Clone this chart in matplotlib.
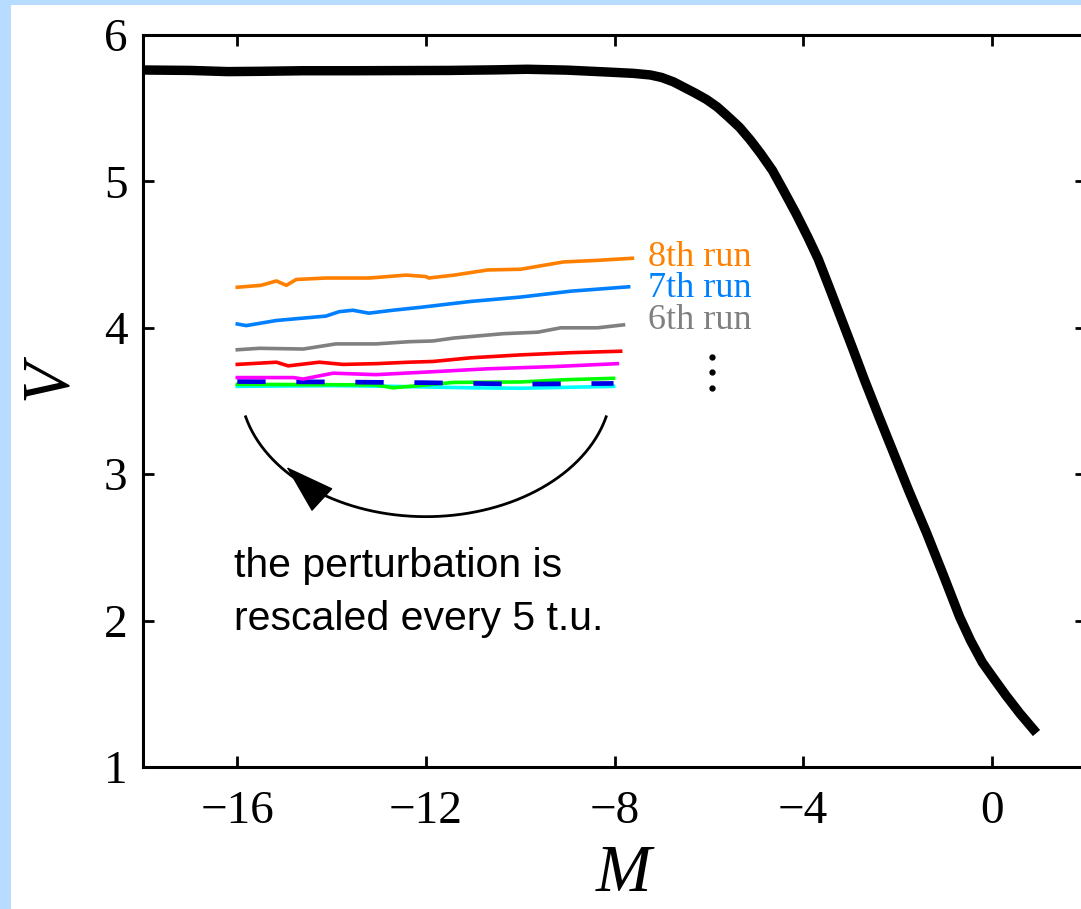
import numpy as np
import matplotlib
matplotlib.use("Agg")
import matplotlib.pyplot as plt
from matplotlib.patches import Rectangle

# main curve V(M)
M_main = [-18.0, -17.0, -16.2, -15.5, -14.6, -13.5, -12.5, -11.5, -10.5, -9.85, -9.0, -8.15,
          -7.6, -7.24, -7.0, -6.75, -6.54, -6.3, -6.05, -5.82, -5.6, -5.35, -5.12, -4.9,
          -4.65, -4.42, -4.15, -3.9, -3.68, -3.45, -3.2, -2.95, -2.7, -2.4, -2.1, -1.75,
          -1.38, -1.0, -0.68, -0.45, -0.2, 0.02, 0.3, 0.6, 0.95]
V_main = [5.761, 5.758, 5.750, 5.752, 5.756, 5.756, 5.757, 5.758, 5.762, 5.766, 5.760, 5.747,
          5.738, 5.727, 5.71, 5.68, 5.645, 5.605, 5.56, 5.508, 5.445, 5.37, 5.283, 5.19,
          5.075, 4.941, 4.78, 4.62, 4.47, 4.28, 4.07, 3.86, 3.645, 3.40, 3.160, 2.880,
          2.598, 2.29, 2.025, 1.865, 1.715, 1.615, 1.49, 1.365, 1.232]

# perturbed runs
M_run8 = [-16.0, -15.5, -15.17, -14.96, -14.75, -14.12, -13.2, -12.42, -12.0, -11.94, -11.4, -10.69, -9.99, -9.08, -8.4, -7.62]
V_run8 = [4.277, 4.29, 4.32, 4.29, 4.33, 4.34, 4.34, 4.36, 4.35, 4.34, 4.36, 4.395, 4.40, 4.45, 4.46, 4.475]

M_run7 = [-16.0, -15.81, -15.17, -14.12, -13.84, -13.55, -13.21, -12.70, -12.11, -11.05, -9.99, -8.93, -7.70]
V_run7 = [4.026, 4.015, 4.05, 4.08, 4.11, 4.12, 4.10, 4.12, 4.14, 4.18, 4.21, 4.25, 4.28]

M_run6 = [-16.0, -15.53, -14.60, -13.91, -13.06, -12.36, -11.85, -11.41, -10.35, -9.63, -9.14, -8.36, -7.81]
V_run6 = [3.85, 3.86, 3.855, 3.89, 3.89, 3.905, 3.91, 3.93, 3.96, 3.97, 4.00, 4.00, 4.02]

M_red = [-16.0, -15.17, -14.92, -14.26, -13.76, -13.06, -12.36, -11.85, -11.05, -9.99, -8.93, -7.87]
V_red = [3.75, 3.765, 3.74, 3.765, 3.75, 3.755, 3.765, 3.77, 3.795, 3.815, 3.83, 3.84]

M_mag = [-16.0, -14.81, -14.60, -13.97, -13.06, -11.85, -10.69, -9.29, -7.94]
V_mag = [3.66, 3.66, 3.65, 3.69, 3.68, 3.70, 3.72, 3.735, 3.755]

M_cyan = [-16.0, -14.0, -12.70, -11.0, -9.99, -8.02]
V_cyan = [3.60, 3.605, 3.60, 3.59, 3.587, 3.60]

M_green = [-16.0, -13.06, -12.70, -11.85, -11.41, -9.99, -9.08, -8.02]
V_green = [3.614, 3.61, 3.59, 3.614, 3.627, 3.63, 3.645, 3.655]

M_dblue = [-16.0, -14.0, -12.0, -10.0, -8.02]
V_dblue = [3.633, 3.63, 3.625, 3.615, 3.62]

run_labels = ["8th run", "7th run", "6th run"]
run_label_V = [4.425, 4.21, 3.99]
run_label_colors = ["#ff8000", "#0080ff", "#808080"]

xticks = [-16, -12, -8, -4, 0]
yticks = [1, 2, 3, 4, 5, 6]

serif = "Liberation Serif"

fig = plt.figure(figsize=(10.81, 9.09), dpi=100)
fig.patch.set_facecolor("#b8dcff")
fig.add_artist(Rectangle((11 / 1081, 0), 1.0, 1 - 5 / 909, transform=fig.transFigure,
                         facecolor="white", edgecolor="none", zorder=0))

ax = fig.add_axes([143 / 1081, 142 / 909, 943 / 1081, 732 / 909])
ax.set_xlim(-18, 2)
ax.set_ylim(1, 6)

lw_run = 2.6
ax.plot(M_cyan, V_cyan, color="#00ffff", lw=lw_run)
ax.plot(M_green, V_green, color="#00ff00", lw=lw_run)
ax.plot(M_dblue, V_dblue, color="#0000e6", lw=3.4, linestyle=(0, (6.0, 6.5)))
ax.plot(M_mag, V_mag, color="#ff00ff", lw=lw_run)
ax.plot(M_red, V_red, color="#ff0000", lw=lw_run)
ax.plot(M_run6, V_run6, color="#808080", lw=lw_run)
ax.plot(M_run7, V_run7, color="#0080ff", lw=lw_run)
ax.plot(M_run8, V_run8, color="#ff8000", lw=lw_run)

ax.plot(M_main, V_main, color="black", lw=6.8, solid_capstyle="butt", solid_joinstyle="round")

for lab, v, c in zip(run_labels, run_label_V, run_label_colors):
    ax.text(-7.28, v, lab, color=c, fontsize=26, family=serif, ha="left", va="baseline")

# vertical dots
ax.plot([-5.93, -5.93, -5.93], [3.80, 3.70, 3.59], "o", color="black", ms=3.5)

# rescaling arc with arrowhead
t = np.radians(np.linspace(194, 346, 200))
ax.plot(-12.0 + 3.94 * np.cos(t), 3.61 + 0.90 * np.sin(t), color="black", lw=2.0)
ax.annotate("", xy=(-14.96, 3.05), xytext=(-14.25, 2.84),
            arrowprops=dict(arrowstyle="-|>,head_length=1.65,head_width=0.52",
                            mutation_scale=20, color="black", lw=1, shrinkA=0, shrinkB=0))

ax.text(-16.06, 2.298, "the perturbation is", fontsize=29.5, family="Liberation Sans",
        ha="left", va="baseline")
ax.text(-16.06, 1.936, "rescaled every 5 t.u.", fontsize=29.5, family="Liberation Sans",
        ha="left", va="baseline")

ax.set_xticks(xticks)
ax.set_yticks(yticks)
ax.set_xticklabels([str(x).replace("-", "\u2212") for x in xticks])
ax.set_yticklabels([str(y) for y in yticks])
for lab in ax.get_xticklabels() + ax.get_yticklabels():
    lab.set_family(serif)
    lab.set_fontsize(34)
ax.tick_params(direction="in", length=8, width=2, top=True, right=True)
ax.tick_params(axis="x", pad=17)
ax.tick_params(axis="y", pad=11)
for s in ax.spines.values():
    s.set_linewidth(2.2)

ax.set_xlabel("M", fontsize=48, family=serif, style="italic", va="top")
ax.xaxis.set_label_coords(0.51, -0.105)
ax.set_ylabel("V", fontsize=48, family=serif, style="italic", va="center")
ax.yaxis.set_label_coords(-0.100, 0.529)

fig.savefig("out.png", dpi=100)
